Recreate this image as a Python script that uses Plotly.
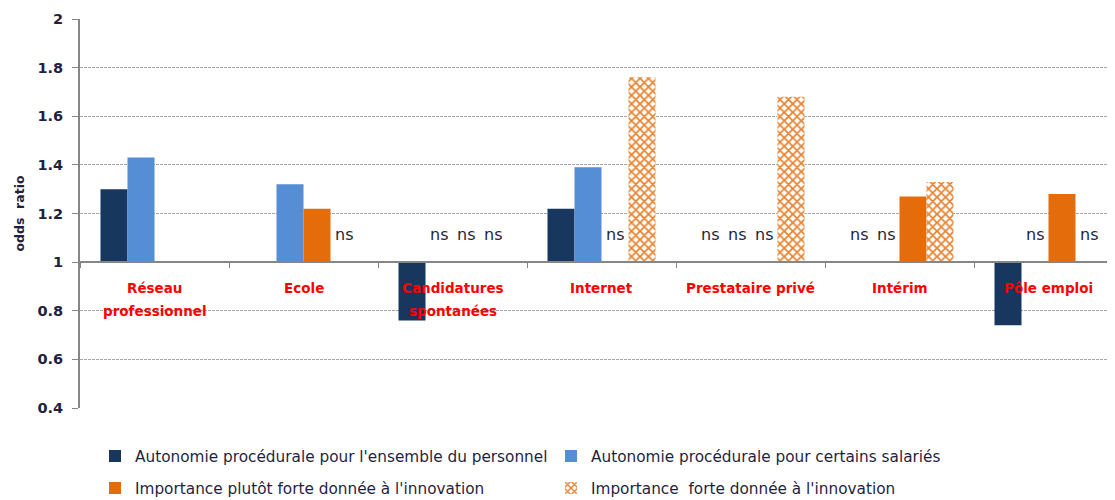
import plotly.graph_objects as go

categories = ["Réseau<br>professionnel", "Ecole", "Candidatures<br>spontanées", "Internet",
              "Prestataire privé", "Intérim", "Pôle emploi"]
series_names = ["Autonomie procédurale pour l'ensemble du personnel",
                "Autonomie procédurale pour certains salariés",
                "Importance plutôt forte donnée à l'innovation",
                "Importance  forte donnée à l'innovation"]
s1 = [1.30, None, 0.76, 1.22, None, None, 0.74]
s2 = [1.43, 1.32, None, 1.39, None, None, None]
s3 = [None, 1.22, None, None, None, 1.27, 1.28]
s4 = [None, None, None, 1.76, 1.68, 1.33, None]
ns1 = [False, False, False, False, True, True, False]
ns2 = [False, False, True, False, True, True, True]
ns3 = [False, False, True, True, True, False, False]
ns4 = [False, True, True, False, False, False, True]
y_ticks = [0.4, 0.6, 0.8, 1, 1.2, 1.4, 1.6, 1.8, 2]
baseline = 1.0

colors = ["#17375E", "#558ED5", "#E46C0A", "#E46C0A"]
FONT = "DejaVu Sans"
OFF = 8  # default page body margin
PAGE_W, PAGE_H = 1115, 500
W, H = PAGE_W - OFF, PAGE_H - OFF
# plot area in page pixels: left 80, top 19, bottom 408, right 1115
ML, MT, MB, MR = 80 - OFF, 19 - OFF, PAGE_H - 408, 0
cat_w_px = 149
x_end = -0.5 + (W - ML - MR) / cat_w_px
bargap = 41 / cat_w_px
slot = (1 - bargap) / 4

fig = go.Figure()
all_series = [s1, s2, s3, s4]
legend_ids = ["legend", "legend2", "legend3", "legend4"]
for k, (vals, name) in enumerate(zip(all_series, series_names)):
    marker = dict(color=colors[k], line=dict(width=0))
    if k == 3:
        marker = dict(color="white", line=dict(width=0),
                      pattern=dict(shape="x", fgcolor=colors[k], bgcolor="white",
                                   fgopacity=0.85, size=6, solidity=0.5))
    fig.add_trace(go.Bar(
        x=categories,
        y=[(v - baseline) if v is not None else None for v in vals],
        base=baseline,
        name=name,
        marker=marker,
        legend=legend_ids[k],
    ))

# ns labels
for k, flags in enumerate([ns1, ns2, ns3, ns4]):
    off = (k - 1.5) * slot
    for i, f in enumerate(flags):
        if f:
            fig.add_annotation(x=i + off, y=1.115, xref="x", yref="y", text="ns",
                               showarrow=False, font=dict(family=FONT, size=16, color="#1F1F3F"))

# category labels
for i, c in enumerate(categories):
    for j, line in enumerate(c.split("<br>")):
        fig.add_annotation(x=i, y=baseline, xref="x", yref="y", text=line, showarrow=False,
                           yanchor="middle", yshift=-26 - 23 * j,
                           font=dict(family=FONT, size=13.5, color="#FF0000", weight="bold"))

plot_h = H - MT - MB
def py(page_px):
    return (H - MB - (page_px - OFF)) / plot_h
def pxx(page_px):
    return ((page_px - OFF) - ML) / (W - ML - MR)

leg_pos = [(95, 456), (551, 456), (95, 488), (551, 488)]
for k, lid in enumerate(legend_ids):
    fig.update_layout({lid: dict(x=pxx(leg_pos[k][0]), y=py(leg_pos[k][1]), xanchor="left",
                                 yanchor="middle", orientation="h", bgcolor="rgba(0,0,0,0)",
                                 font=dict(family=FONT, size=15.3, color="#1F1F3F"))})

fig.update_layout(
    width=W, height=H,
    margin=dict(l=ML, r=MR, t=MT, b=MB, autoexpand=False),
    paper_bgcolor="white", plot_bgcolor="white",
    barmode="group", bargap=bargap, bargroupgap=0,
    showlegend=True,
    xaxis=dict(type="category", range=[-0.5, x_end], anchor="free",
               position=(baseline - 0.4) / 1.6, showline=True, linecolor="#868686",
               linewidth=1.5, ticks="outside", ticklen=5, tickcolor="#868686",
               tickson="boundaries", showticklabels=False, showgrid=False, zeroline=False),
    yaxis=dict(range=[0.4, 2], tickvals=y_ticks, showline=True, linecolor="#868686",
               linewidth=2, ticks="outside", ticklen=6, tickcolor="#868686",
               ticklabelstandoff=6,
               showgrid=True, gridcolor="#A6A6A6", griddash="3px,1px", gridwidth=1,
               zeroline=False,
               tickfont=dict(family=FONT, size=14.5, color="#1F1F3F", weight="bold"),
               title=dict(text="odds&nbsp;&nbsp;ratio", standoff=10,
                          font=dict(family=FONT, size=12.5, color="#1F1F3F", weight="bold"))),
)

fig.write_html("out.html")
